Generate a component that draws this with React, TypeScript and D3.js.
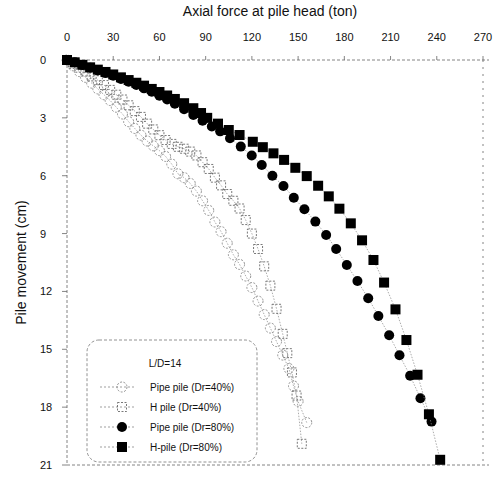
import React from 'react';
import * as d3 from 'd3';

// axial force (ton) vs pile movement (cm)
const pipe40Force = [0, 4, 8, 12, 16, 20, 24, 28, 32, 36, 40, 44, 48, 52, 56, 60, 64, 68, 72, 76, 80, 84, 88, 92, 96, 100, 104, 108, 112, 116, 120, 124, 128, 132, 136, 140, 144, 147, 150, 155.6];
const pipe40Move = [0, 0.3, 0.6, 0.9, 1.2, 1.5, 1.8, 2.1, 2.45, 2.8, 3.2, 3.55, 3.9, 4.2, 4.45, 4.7, 5.0, 5.4, 5.9, 6.1, 6.4, 6.8, 7.3, 7.8, 8.4, 8.9, 9.5, 10.1, 10.6, 11.2, 11.8, 12.5, 13.2, 13.9, 14.6, 15.3, 16.0, 16.9, 17.7, 18.8];

const h40Force = [0, 4, 8, 12, 16, 20, 24, 28, 32, 36, 40, 44, 48, 52, 56, 60, 64, 68, 72, 76, 80, 84, 88, 92, 96, 100, 104, 108, 112, 116, 120, 124, 128, 132, 136, 140, 143, 146, 149, 152.4];
const h40Move = [0, 0.2, 0.4, 0.6, 0.85, 1.05, 1.3, 1.55, 1.8, 2.05, 2.35, 2.65, 2.95, 3.3, 3.6, 3.9, 4.15, 4.35, 4.5, 4.6, 4.75, 4.95, 5.3, 5.65, 6.1, 6.5, 6.95, 7.3, 7.7, 8.3, 9.0, 9.8, 10.7, 11.7, 12.9, 14.2, 15.2, 16.2, 17.4, 19.9];

const pipe80Force = [0, 5, 10, 15, 20, 25, 30, 35, 40, 45, 50, 55, 60, 65, 70, 76, 82, 88, 94, 99.4, 105.8, 112.8, 119.9, 126.4, 133.3, 140.5, 147.2, 154.1, 161.2, 168.2, 174.7, 181.6, 188.5, 195.5, 202.1, 209.1, 215.8, 222.7, 229.4, 236.6];
const pipe80Move = [0, 0.12, 0.26, 0.4, 0.54, 0.68, 0.82, 0.98, 1.13, 1.3, 1.47, 1.65, 1.85, 2.05, 2.27, 2.55, 2.85, 3.15, 3.45, 3.7, 4.06, 4.49, 4.95, 5.44, 6.0, 6.53, 7.14, 7.74, 8.38, 9.07, 9.8, 10.63, 11.46, 12.35, 13.27, 14.27, 15.31, 16.37, 17.54, 18.75];

const h80Force = [0, 5, 10, 15, 20, 25, 30, 35, 40, 45, 50, 55, 60, 65, 70, 76, 82, 87, 91, 98, 105, 112, 120.6, 127.1, 134, 140.9, 148.2, 155.6, 163, 169.9, 176.8, 184.2, 191.5, 198.9, 205.8, 213.2, 220.3, 227.5, 234.9, 242.2];
const h80Move = [0, 0.12, 0.25, 0.38, 0.5, 0.62, 0.75, 0.9, 1.04, 1.18, 1.33, 1.5, 1.66, 1.84, 2.02, 2.24, 2.5, 2.75, 3.0, 3.3, 3.63, 3.89, 4.24, 4.52, 4.84, 5.18, 5.59, 6.02, 6.52, 7.07, 7.71, 8.47, 9.35, 10.37, 11.54, 12.93, 14.52, 16.32, 18.37, 20.73];

const xTicks = [0, 30, 60, 90, 120, 150, 180, 210, 240, 270];
const yTicks = [0, 3, 6, 9, 12, 15, 18, 21];
const legendLabels = ['Pipe pile (Dr=40%)', 'H pile (Dr=40%)', 'Pipe pile (Dr=80%)', 'H-pile (Dr=80%)'];

const font = '"Liberation Sans", Arial, sans-serif';

type Kind = 'openCircle' | 'openSquare' | 'circle' | 'square';

const Marker = ({ kind, x, y }: { kind: Kind; x: number; y: number }) => {
  if (kind === 'circle') return <circle cx={x} cy={y} r={5} fill="#000" />;
  if (kind === 'square') return <rect x={x - 5} y={y - 5} width={10} height={10} fill="#000" />;
  if (kind === 'openCircle')
    return <circle cx={x} cy={y} r={5} fill="none" stroke="#777" strokeWidth={0.8} strokeDasharray="2,1.5" />;
  return <rect x={x - 4.5} y={y - 4.5} width={9} height={9} fill="none" stroke="#555" strokeWidth={0.8} strokeDasharray="2,1.5" />;
};

const App = () => {
  const width = 501;
  const height = 482;
  const x = d3.scaleLinear().domain([0, 270]).range([67, 483]);
  const y = d3.scaleLinear().domain([0, 21]).range([60, 465]);

  const series: { kind: Kind; f: number[]; m: number[] }[] = [
    { kind: 'openCircle', f: pipe40Force, m: pipe40Move },
    { kind: 'openSquare', f: h40Force, m: h40Move },
    { kind: 'circle', f: pipe80Force, m: pipe80Move },
    { kind: 'square', f: h80Force, m: h80Move },
  ];

  const line = d3
    .line<[number, number]>()
    .x((d) => x(d[0]))
    .y((d) => y(d[1]));

  const lx = 87;
  const ly = 340;

  return (
    <svg width={width} height={height} style={{ position: 'absolute', left: 0, top: 0, background: '#fff' }}>
      {/* frame */}
      <g stroke="#666" strokeWidth={0.8} strokeDasharray="3,2" fill="none">
        <line x1={x(0)} x2={x(0)} y1={y(0)} y2={y(21)} />
        <line x1={x(0)} x2={x(270) + 6} y1={y(0)} y2={y(0)} />
        <line x1={x(270)} x2={x(270)} y1={y(0)} y2={y(21)} strokeDasharray="2,5" />
        <line x1={x(0)} x2={x(270) + 6} y1={y(21)} y2={y(21)} />
      </g>
      {xTicks.map((t) => (
        <g key={'x' + t}>
          <line x1={x(t)} x2={x(t)} y1={y(0) - 4} y2={y(0)} stroke="#666" strokeWidth={0.8} />
          <text x={x(t)} y={41} textAnchor="middle" fontFamily={font} fontSize={11} fill="#111">
            {t}
          </text>
        </g>
      ))}
      {yTicks.map((t) => (
        <g key={'y' + t}>
          <line x1={x(0) - 5} x2={x(0)} y1={y(t)} y2={y(t)} stroke="#666" strokeWidth={0.8} />
          <text x={40} y={y(t) + 4} textAnchor="start" fontFamily={font} fontSize={11} fill="#111">
            {t}
          </text>
        </g>
      ))}
      <text x={270} y={16} textAnchor="middle" fontFamily={font} fontSize={14} fill="#111">
        Axial force at pile head (ton)
      </text>
      <text
        transform={`translate(26,${(y(0) + y(21)) / 2}) rotate(-90)`}
        textAnchor="middle"
        fontFamily={font}
        fontSize={14}
        fill="#111"
      >
        Pile movement (cm)
      </text>

      {series.map((s, i) => {
        const pts = s.f.map((f, j) => [f, s.m[j]] as [number, number]);
        return (
          <g key={i}>
            <path d={line(pts) || ''} fill="none" stroke="#888" strokeWidth={0.7} strokeDasharray="1.5,1.5" />
            {pts.map((p, j) => (
              <Marker key={j} kind={s.kind} x={x(p[0])} y={y(p[1])} />
            ))}
          </g>
        );
      })}

      {/* legend */}
      <rect x={lx} y={ly} width={170} height={122} rx={12} fill="#fff" stroke="#777" strokeWidth={0.8} strokeDasharray="3,2" />
      <text x={lx + 78} y={ly + 27} textAnchor="middle" fontFamily={font} fontSize={10} fill="#111">
        L/D=14
      </text>
      {legendLabels.map((lab, i) => {
        const ry = ly + 47 + i * 20;
        return (
          <g key={lab}>
            <line x1={lx + 13} x2={lx + 48} y1={ry} y2={ry} stroke="#777" strokeWidth={0.7} strokeDasharray="2,2" />
            <Marker kind={series[i].kind} x={lx + 35} y={ry} />
            <text x={lx + 63} y={ry + 3.5} fontFamily={font} fontSize={10} fill="#111">
              {lab}
            </text>
          </g>
        );
      })}
    </svg>
  );
};

export default App;
